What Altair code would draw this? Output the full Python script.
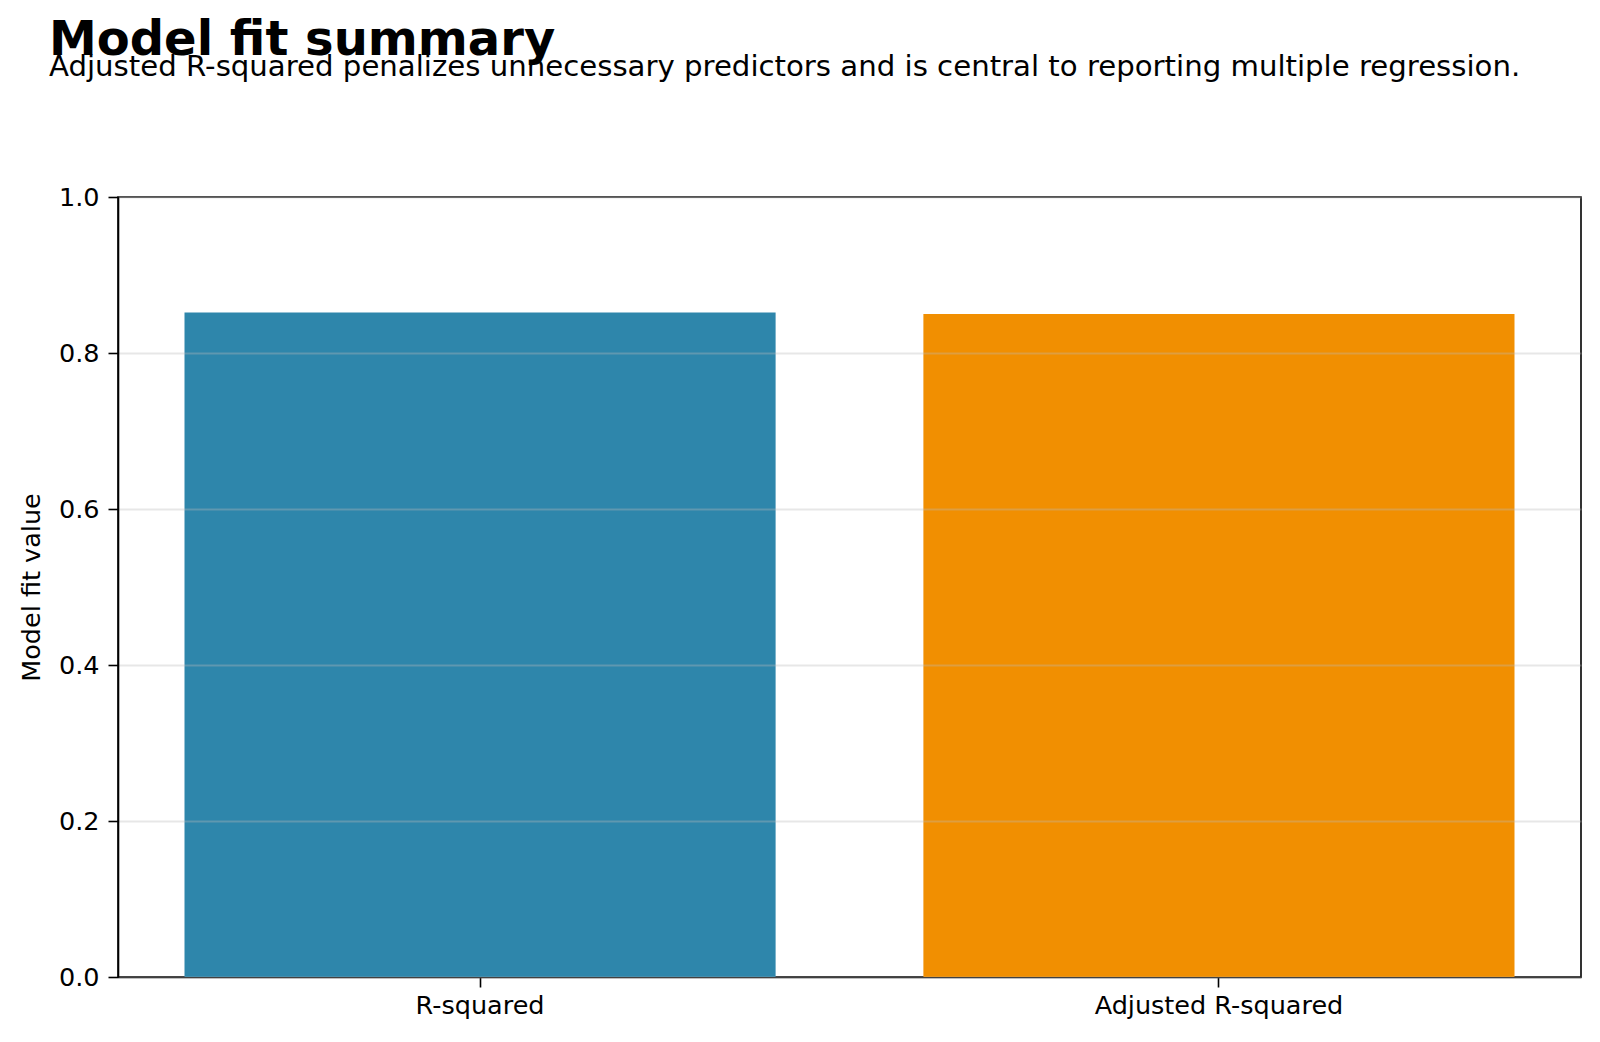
import altair as alt
import pandas as pd

# values
metrics = ["R-squared", "Adjusted R-squared"]
fit_values = [0.852, 0.850]
bar_colors = ["#2E86AB", "#F18F01"]
y_ticks = [0.0, 0.2, 0.4, 0.6, 0.8, 1.0]

FONT = "DejaVu Sans"


def model_fit_chart():
    """
    Bar chart of R-squared vs adjusted R-squared
    """
    fit_df = pd.DataFrame({"metric": metrics, "value": fit_values})

    chart = (
        alt.Chart(fit_df)
        .mark_bar()
        .encode(
            x=alt.X(
                "metric:N",
                sort=metrics,
                title=None,
                scale=alt.Scale(paddingInner=0.2, paddingOuter=0.09),
                axis=alt.Axis(labelAngle=0, labelPadding=6, labelLimit=0, grid=False),
            ),
            y=alt.Y(
                "value:Q",
                title="Model fit value",
                scale=alt.Scale(domain=[0, 1], nice=False),
                axis=alt.Axis(
                    values=y_ticks,
                    format=".1f",
                    titlePadding=14,
                    labelPadding=9,
                    gridColor="#bbbbbb",
                    gridOpacity=0.35,
                    gridWidth=2,
                    zindex=1,
                ),
            ),
            color=alt.Color(
                "metric:N",
                scale=alt.Scale(domain=metrics, range=bar_colors),
                legend=None,
            ),
        )
        .properties(
            title=alt.Title(
                "Model fit summary",
                subtitle="Adjusted R-squared penalizes unnecessary predictors and is central to reporting multiple regression.",
                anchor="start",
                frame="group",
                dx=-69,
                offset=103,
                font=FONT,
                fontSize=48,
                fontWeight="bold",
                color="black",
                subtitleFont=FONT,
                subtitleFontSize=29.2,
                subtitleColor="black",
                subtitlePadding=-12,
            ),
            width=1463,
            height=780,
            autosize=alt.AutoSizeParams(type="none"),
            padding={"left": 110, "top": 189, "right": 10, "bottom": 50},
        )
        .configure_view(stroke="black", strokeWidth=1.6)
        .configure_axis(
            domainColor="black",
            domainWidth=1.6,
            tickColor="black",
            tickWidth=1.6,
            tickSize=10,
            labelFont=FONT,
            labelFontSize=25.5,
            labelColor="black",
            titleFont=FONT,
            titleFontSize=25.5,
            titleFontWeight="normal",
            titleColor="black",
        )
    )
    return chart


chart = model_fit_chart()
chart.save("out.html", embed_options={"renderer": "svg", "actions": False})
